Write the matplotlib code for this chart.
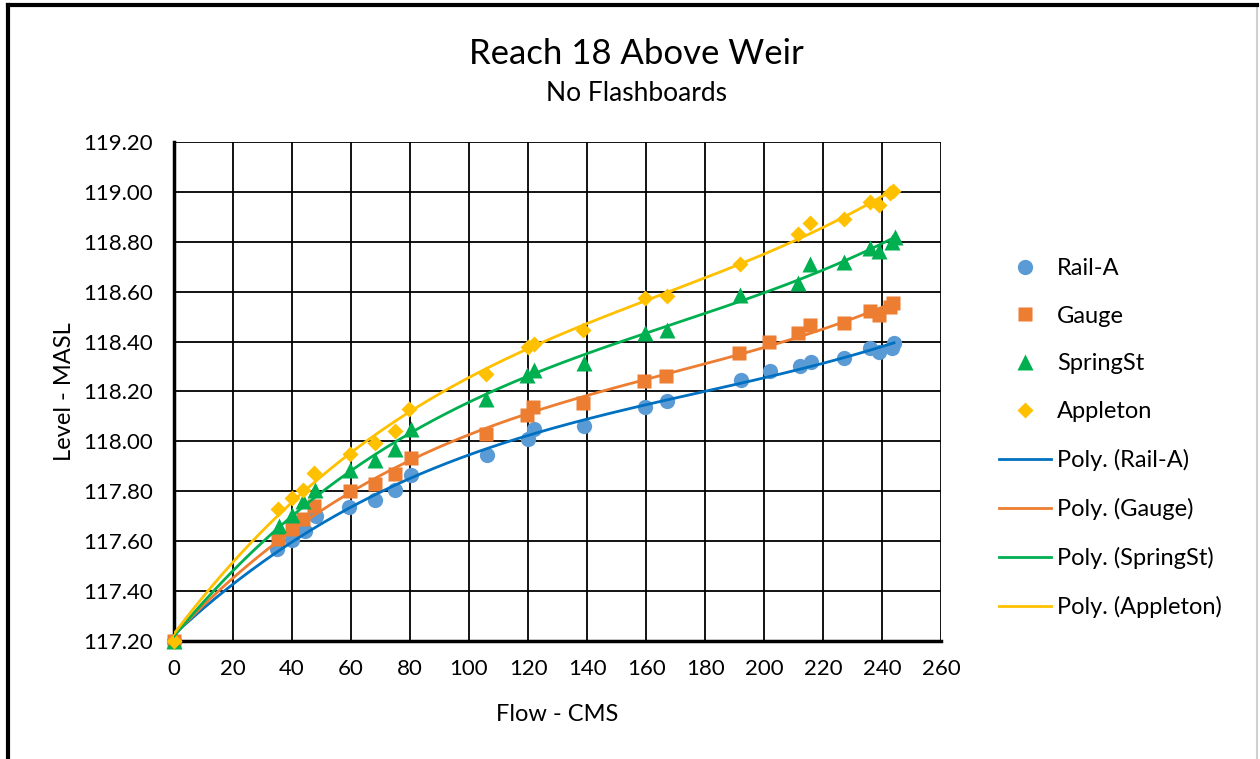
import numpy as np
import matplotlib.pyplot as plt
from matplotlib.lines import Line2D
from matplotlib.patches import Rectangle

plt.rcParams['font.family'] = ['Lato', 'DejaVu Sans']

# readings (flow in CMS, level in MASL)
railFlow = [0, 35, 40, 44.5, 48, 59.5, 68, 75, 80.3, 106, 120, 122, 139, 159.7, 167,
            192, 202, 212, 215.8, 227, 235.7, 239, 243.3, 244]
railLevel = [117.20, 117.57, 117.605, 117.64, 117.70, 117.735, 117.765, 117.805, 117.865,
             117.945, 118.01, 118.05, 118.06, 118.137, 118.16,
             118.246, 118.283, 118.302, 118.32, 118.333, 118.373, 118.36, 118.373, 118.393]

gaugeFlow = [0, 35.4, 40, 43.8, 47.5, 59.7, 68, 75, 80.3, 105.8, 119.6, 121.8, 138.7, 159.4, 166.8,
             191.6, 201.8, 211.6, 215.6, 227, 235.7, 238.8, 242.7, 243.6]
gaugeLevel = [117.20, 117.61, 117.65, 117.69, 117.74, 117.80, 117.83, 117.87, 117.935,
              118.03, 118.105, 118.137, 118.155, 118.24, 118.26,
              118.355, 118.397, 118.433, 118.467, 118.473, 118.524, 118.507, 118.537, 118.556]

springFlow = [0, 35.7, 40, 43.8, 47.8, 59.7, 68, 75, 80.3, 105.8, 119.6, 122, 139, 159.7, 167,
              191.9, 211.6, 215.6, 226.9, 235.7, 238.8, 243.3, 244.2]
springLevel = [117.20, 117.66, 117.705, 117.76, 117.805, 117.885, 117.925, 117.97, 118.05,
               118.17, 118.265, 118.285, 118.315, 118.435, 118.447,
               118.587, 118.636, 118.71, 118.72, 118.776, 118.763, 118.80, 118.82]

appletonFlow = [0, 35.4, 40, 43.8, 47.5, 59.7, 68, 75, 79.7, 105.8, 120.1, 122, 138.7, 159.7, 167,
                191.9, 211.6, 215.6, 226.9, 235.7, 238.8, 242.5, 243.5]
appletonLevel = [117.20, 117.73, 117.775, 117.805, 117.875, 117.95, 117.995, 118.04, 118.13,
                 118.27, 118.38, 118.39, 118.447, 118.573, 118.583,
                 118.71, 118.83, 118.874, 118.89, 118.958, 118.947, 118.995, 119.005]

names = ['Rail-A', 'Gauge', 'SpringSt', 'Appleton']
flows = [railFlow, gaugeFlow, springFlow, appletonFlow]
levels = [railLevel, gaugeLevel, springLevel, appletonLevel]
markerColours = ['#5B9BD5', '#ED7D31', '#00B050', '#FFC000']
lineColours = ['#0070C0', '#ED7D31', '#00B050', '#FFC000']
markers = ['o', 's', '^', 'D']
markerSizes = [11, 9.5, 11.5, 8.5]

fig = plt.figure(figsize=(12.6, 7.59), dpi=100)
ax = fig.add_axes([0.138, 0.1555, 0.609, 0.6575])

for i in range(4):
    ax.plot(flows[i], levels[i], linestyle='none', marker=markers[i], ms=markerSizes[i],
            color=markerColours[i], mec='none', zorder=3, clip_on=False)

# polynomial trendlines, like excel does
for i in range(4):
    coeffs = np.polyfit(flows[i], levels[i], 3)
    xs = np.linspace(min(flows[i]), max(flows[i]), 300)
    ax.plot(xs, np.polyval(coeffs, xs), color=lineColours[i], lw=2, zorder=4)

ax.set_xlim(0, 260)
ax.set_ylim(117.2, 119.2)
ax.set_xticks(np.arange(0, 261, 20))
ax.set_yticks(np.arange(117.2, 119.21, 0.2))
ax.set_yticklabels(['%.2f' % v for v in np.arange(117.2, 119.21, 0.2)])
ax.grid(True, color='black', lw=1.3)
ax.set_axisbelow(True)
ax.tick_params(length=0, labelsize=16)
ax.tick_params(axis='x', pad=13)
ax.tick_params(axis='y', pad=15)
for s in ['top', 'right']:
    ax.spines[s].set_visible(False)
for s in ['left', 'bottom']:
    ax.spines[s].set_linewidth(2.5)

ax.set_xlabel('Flow - CMS', fontsize=17, labelpad=18)
ax.set_ylabel('Level - MASL', fontsize=17, labelpad=6)

fig.text(0.505, 0.929, 'Reach 18 Above Weir', ha='center', va='center', fontsize=25)
fig.text(0.505, 0.877, 'No Flashboards', ha='center', va='center', fontsize=19)

handles = []
for i in range(4):
    handles.append(Line2D([], [], linestyle='none', marker=markers[i], ms=markerSizes[i],
                          color=markerColours[i], mec='none'))
for i in range(4):
    handles.append(Line2D([], [], color=lineColours[i], lw=2))
labels = names + ['Poly. (%s)' % n for n in names]
fig.legend(handles, labels, loc='upper left', bbox_to_anchor=(0.78, 0.682), frameon=False,
           fontsize=17, labelspacing=1.135, handlelength=2.2, handletextpad=0.25,
           borderaxespad=0.3)

# frame round the figure
fig.add_artist(Rectangle((0.0065, -0.01), 0.991, 1.003, transform=fig.transFigure,
                         fill=False, edgecolor='#D0D0D0', lw=1.5))
fig.add_artist(Line2D([0.0065, 0.0065], [-0.01, 0.993], transform=fig.transFigure, color='black', lw=3))
fig.add_artist(Line2D([0.0065, 0.998], [0.993, 0.993], transform=fig.transFigure, color='black', lw=3))

fig.savefig('out.png', dpi=100)
